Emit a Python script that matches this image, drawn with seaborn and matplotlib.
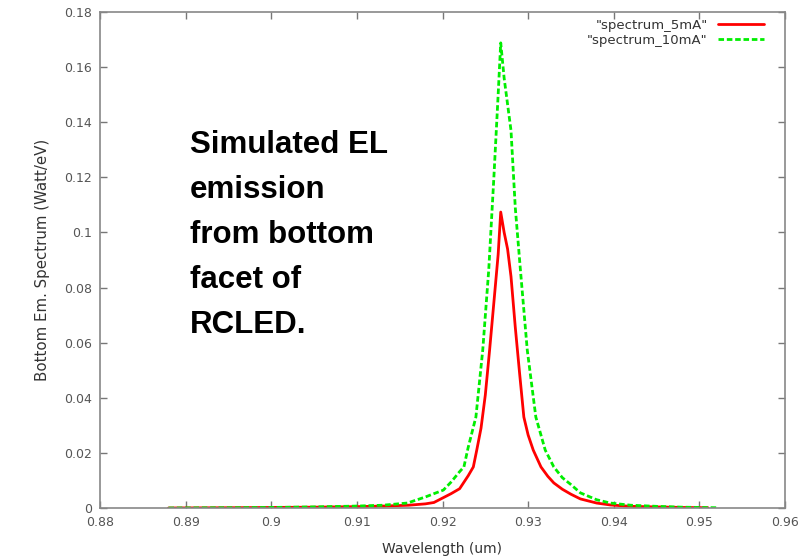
import matplotlib
matplotlib.use("Agg")
import matplotlib.pyplot as plt
import seaborn as sns
import pandas as pd

sns.set_theme(style="white")
plt.rcParams['font.family'] = ['DejaVu Sans']

# ---- data ----
wl_5mA = [0.888, 0.895, 0.900, 0.905, 0.910, 0.913, 0.916, 0.918, 0.919, 0.920,
          0.921, 0.922, 0.923, 0.9236, 0.924, 0.9245, 0.925, 0.9255, 0.926, 0.9265,
          0.9268, 0.9272, 0.9276, 0.928, 0.9285, 0.929, 0.9295, 0.930, 0.9306, 0.9315,
          0.9323, 0.933, 0.934, 0.935, 0.9361, 0.938, 0.9396, 0.942, 0.945, 0.948, 0.951]
spec_5mA = [0.0000, 0.0001, 0.0002, 0.0003, 0.0005, 0.0007, 0.0010, 0.0015, 0.0020, 0.0036,
            0.0052, 0.0070, 0.0117, 0.0149, 0.0210, 0.0290, 0.0410, 0.0573, 0.0746, 0.0920,
            0.1074, 0.1000, 0.0940, 0.0840, 0.0656, 0.0490, 0.0330, 0.0265, 0.0210, 0.0149,
            0.0115, 0.0091, 0.0068, 0.0050, 0.0033, 0.0018, 0.0011, 0.0006, 0.0004, 0.0002, 0.0001]

wl_10mA = [0.888, 0.895, 0.900, 0.905, 0.910, 0.913, 0.9159, 0.918, 0.919, 0.9201,
           0.921, 0.922, 0.9225, 0.923, 0.9239, 0.9247, 0.9254, 0.926, 0.9265, 0.9268,
           0.9272, 0.928, 0.9285, 0.9291, 0.9299, 0.9309, 0.932, 0.933, 0.934, 0.935,
           0.9361, 0.938, 0.9396, 0.942, 0.945, 0.948, 0.952]
spec_10mA = [0.0000, 0.0001, 0.0002, 0.0004, 0.0007, 0.0010, 0.0018, 0.0040, 0.0052, 0.0065,
             0.0094, 0.0132, 0.0149, 0.0220, 0.0330, 0.0573, 0.0864, 0.1200, 0.1500, 0.1688,
             0.1560, 0.1370, 0.1090, 0.0864, 0.0573, 0.0330, 0.0210, 0.0149, 0.0110, 0.0085,
             0.0055, 0.0030, 0.0018, 0.0010, 0.0006, 0.0003, 0.0001]

x_ticks = [0.88, 0.89, 0.90, 0.91, 0.92, 0.93, 0.94, 0.95, 0.96]
x_tick_labels = ["0.88", "0.89", "0.9", "0.91", "0.92", "0.93", "0.94", "0.95", "0.96"]
y_ticks = [0, 0.02, 0.04, 0.06, 0.08, 0.10, 0.12, 0.14, 0.16, 0.18]
y_tick_labels = ["0", "0.02", "0.04", "0.06", "0.08", "0.1", "0.12", "0.14", "0.16", "0.18"]
labels = ['"spectrum_5mA"', '"spectrum_10mA"']
annotation = "Simulated EL\nemission\nfrom bottom\nfacet of\nRCLED."

# ---- plot ----
fig = plt.figure(figsize=(8.11, 5.58), dpi=100)
ax = fig.add_axes([100/811, 50/558, 685/811, 496/558])

sns.lineplot(x=wl_5mA, y=spec_5mA, ax=ax, color="#ff0000", linewidth=2.0,
             label=labels[0], sort=False)
sns.lineplot(x=wl_10mA, y=spec_10mA, ax=ax, color="#00ee00", linewidth=2.0,
             linestyle=(0, (2, 1)), label=labels[1], sort=False)

ax.set_xlim(0.88, 0.96)
ax.set_ylim(0, 0.18)
ax.set_xticks(x_ticks)
ax.set_xticklabels(x_tick_labels)
ax.set_yticks(y_ticks)
ax.set_yticklabels(y_tick_labels)

gray = "#555555"
ax.tick_params(axis="both", which="both", direction="in", length=5, width=1,
               color="#777777", labelsize=9, labelcolor=gray, top=True, right=True,
               bottom=True, left=True, pad=6)
for s in ax.spines.values():
    s.set_color("#888888")
    s.set_linewidth(1.2)

ax.set_xlabel("Wavelength (um)", fontsize=10, color="#333333", labelpad=9)
ax.set_ylabel("Bottom Em. Spectrum (Watt/eV)", fontsize=10.8, color="#333333", labelpad=10)

leg = ax.legend(loc="upper right", bbox_to_anchor=(1 - 10/685, 1 + 4/496),
                frameon=False, markerfirst=False, fontsize=9.5,
                handlelength=3.5, borderaxespad=0.6, labelspacing=0.15, handletextpad=0.8,
                borderpad=0.2)
for t in leg.get_texts():
    t.set_color("#333333")

ax.text(0.1314, 0.3528, annotation,
        transform=ax.transAxes, ha="left", va="baseline", fontsize=22.5, fontweight="bold",
        family=["Liberation Sans", "DejaVu Sans"],
        linespacing=1.65, color="black")

fig.savefig("out.png", dpi=100)
